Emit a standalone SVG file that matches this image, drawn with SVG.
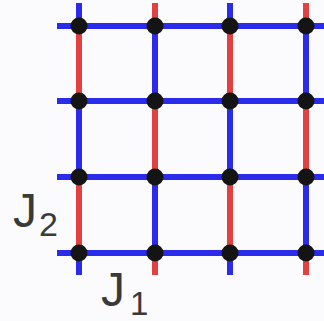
<svg xmlns="http://www.w3.org/2000/svg" width="324" height="321" viewBox="0 0 324 321">
<style>
.b{stroke:#2b2bec;stroke-width:6;fill:none}
.r{stroke:#e2413f;stroke-width:6;fill:none}
.n{fill:#141414}
.t{font-family:"Liberation Sans",Arial,sans-serif;fill:#3a3a3a}
</style>
<rect width="324" height="321" fill="#fbfbfd"/>
<g id="connectors">
<path class="b" d="M79 3V26M79 101V177M79 253V275M230 3V26M230 101V177M230 253V275"/>
<path class="r" d="M79 26V101M79 177V253M230 26V101M230 177V253"/>
<path class="r" d="M155 3V26M155 101V177M155 253V275M306 3V26M306 101V177M306 253V275"/>
<path class="b" d="M155 26V101M155 177V253M306 26V101M306 177V253"/>
<path class="b" d="M57 26H324M57 101H324M57 177H324M57 253H324"/>
</g>
<g id="n11"><circle class="n" cx="79" cy="26" r="8.5"/></g>
<g id="n12"><circle class="n" cx="155" cy="26" r="8.5"/></g>
<g id="n13"><circle class="n" cx="230" cy="26" r="8.5"/></g>
<g id="n14"><circle class="n" cx="306" cy="26" r="8.5"/></g>
<g id="n21"><circle class="n" cx="79" cy="101" r="8.5"/></g>
<g id="n22"><circle class="n" cx="155" cy="101" r="8.5"/></g>
<g id="n23"><circle class="n" cx="230" cy="101" r="8.5"/></g>
<g id="n24"><circle class="n" cx="306" cy="101" r="8.5"/></g>
<g id="n31"><circle class="n" cx="79" cy="177" r="8.5"/></g>
<g id="n32"><circle class="n" cx="155" cy="177" r="8.5"/></g>
<g id="n33"><circle class="n" cx="230" cy="177" r="8.5"/></g>
<g id="n34"><circle class="n" cx="306" cy="177" r="8.5"/></g>
<g id="n41"><circle class="n" cx="79" cy="253" r="8.5"/></g>
<g id="n42"><circle class="n" cx="155" cy="253" r="8.5"/></g>
<g id="n43"><circle class="n" cx="230" cy="253" r="8.5"/></g>
<g id="n44"><circle class="n" cx="306" cy="253" r="8.5"/></g>
<g id="label-J2"><text class="t"><tspan x="13" y="227" font-size="48">J</tspan><tspan x="39" y="236" font-size="34">2</tspan></text></g>
<g id="label-J1"><text class="t"><tspan x="101" y="306" font-size="48">J</tspan><tspan x="130" y="315" font-size="33">1</tspan></text></g>
</svg>
